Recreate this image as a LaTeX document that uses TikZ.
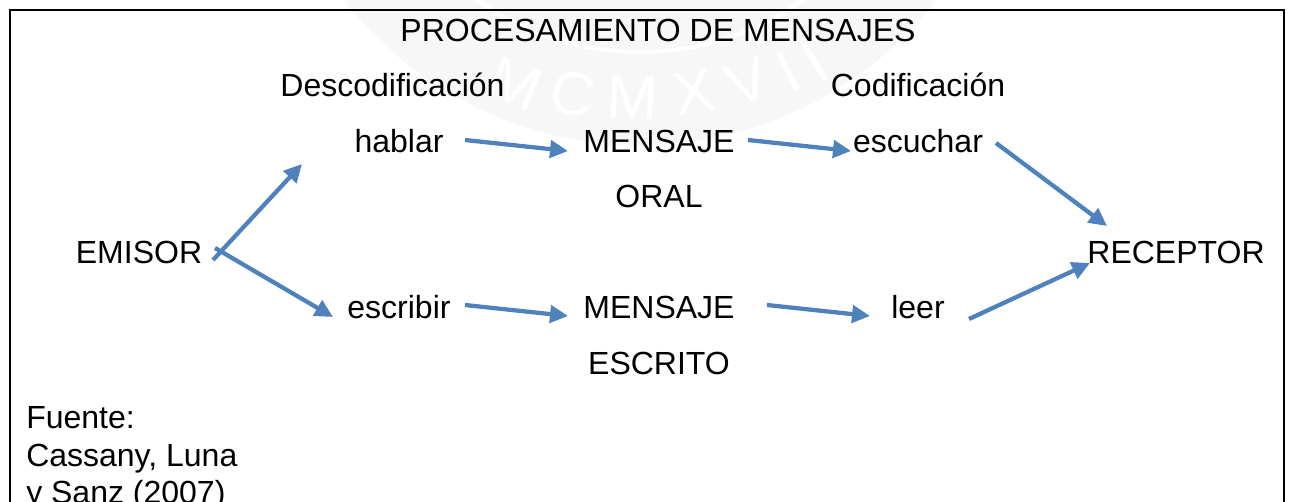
\documentclass[tikz,border=0pt]{standalone}
\usepackage{fontspec}
\setmainfont{Liberation Sans}
\usetikzlibrary{arrows.meta}
\definecolor{arrowblue}{HTML}{4F81BD}
\definecolor{markgray}{HTML}{F7F7F7}
\tikzset{
 lbl/.style={inner sep=0pt,font=\fontsize{24}{28}\selectfont,text=black,anchor=base},
 marklbl/.style={inner sep=0pt,font=\fontsize{46}{46}\selectfont,text=white},
 conn/.style={draw=arrowblue,line width=3.2pt,-{Triangle[length=13.5pt,width=13pt]}},
 frameline/.style={draw=black,line width=1.5pt}
}
\begin{document}
\begin{tikzpicture}[x=0.75pt,y=-0.75pt]
\useasboundingbox (0,0) rectangle (1294,502);
\fill[white] (0,0) rectangle (1294,502);
% faint watermark
\begin{scope}
\clip (0,0) rectangle (1294,502);
\fill[markgray] (640,-230) circle[radius=375];
\draw[white,line width=3pt] (640,-230) circle[radius=282];
\end{scope}
\node[marklbl,rotate=-22] (wm1) at (515,84) {M};
\node[marklbl,rotate=-13] (wm2) at (573,94) {C};
\node[marklbl,rotate=-2] (wm3) at (633,97) {M};
\node[marklbl,rotate=10] (wm4) at (694,92) {X};
\node[marklbl,rotate=20] (wm5) at (747,82) {V};
\node[marklbl,rotate=27] (wm6) at (788,72) {I};
\node[marklbl,rotate=31] (wm7) at (815,62) {I};
\draw[frameline] (10,502) -- (10,10) -- (1284,10) -- (1284,502);
\node[lbl] (title) at (658,42) {PROCESAMIENTO DE MENSAJES};
\node[lbl] (desc) at (392.5,97) {Descodificación};
\node[lbl] (cod) at (918,97) {Codificación};
\node[lbl] (hablar) at (399,153) {hablar};
\node[lbl] (m1) at (659,153) {MENSAJE};
\node[lbl] (oral) at (659,208) {ORAL};
\node[lbl] (esc) at (918,153) {escuchar};
\node[lbl] (emisor) at (139,263) {EMISOR};
\node[lbl] (receptor) at (1176,263) {RECEPTOR};
\node[lbl] (escribir) at (399,318) {escribir};
\node[lbl] (m2) at (659,318) {MENSAJE};
\node[lbl] (escrito) at (659,374) {ESCRITO};
\node[lbl] (leer) at (918,318) {leer};
\node[lbl,anchor=base west] (f1) at (26,428) {Fuente:};
\node[lbl,anchor=base west] (f2) at (26,466) {Cassany, Luna};
\node[lbl,anchor=base west] (f3) at (26,503) {y Sanz (2007)};
\coordinate (e1) at (213,260);
\coordinate (e2) at (215,248);
\coordinate (t1) at (302,164);
\coordinate (t2) at (333,317);
\coordinate (a1) at (465,140);
\coordinate (a2) at (568,151);
\coordinate (b1) at (748,140);
\coordinate (b2) at (851,151);
\coordinate (c1) at (996,143);
\coordinate (c2) at (1107,226);
\coordinate (d1) at (465,305);
\coordinate (d2) at (568,316);
\coordinate (g1) at (767,305);
\coordinate (g2) at (870,316);
\coordinate (h1) at (969,319);
\coordinate (h2) at (1090,263);
\draw[conn] (e1) -- (t1);
\draw[conn] (e2) -- (t2);
\draw[conn] (a1) -- (a2);
\draw[conn] (b1) -- (b2);
\draw[conn] (c1) -- (c2);
\draw[conn] (d1) -- (d2);
\draw[conn] (g1) -- (g2);
\draw[conn] (h1) -- (h2);
\end{tikzpicture}
\end{document}
